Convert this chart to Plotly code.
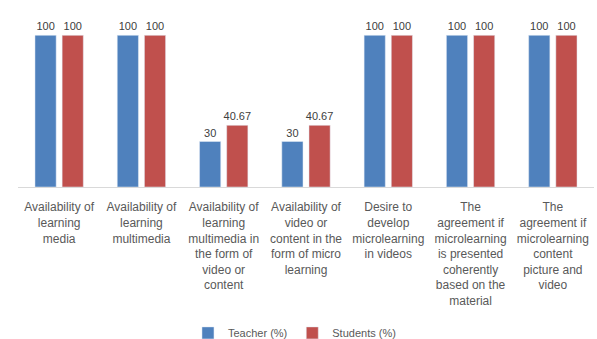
import plotly.graph_objects as go

categories = [
    "Availability of<br>learning<br>media",
    "Availability of<br>learning<br>multimedia",
    "Availability of<br>learning<br>multimedia in<br>the form of<br>video or<br>content",
    "Availability of<br>video or<br>content in the<br>form of micro<br>learning",
    "Desire to<br>develop<br>microlearning<br>in videos",
    "The<br>agreement if<br>microlearning<br>is presented<br>coherently<br>based on the<br>material",
    "The<br>agreement if<br>microlearning<br>content<br>picture and<br>video",
]
teacher = [100, 100, 30, 30, 100, 100, 100]
students = [100, 100, 40.67, 40.67, 100, 100, 100]
teacher_labels = ["100", "100", "30", "30", "100", "100", "100"]
student_labels = ["100", "100", "40.67", "40.67", "100", "100", "100"]

FONT = "Liberation Sans, Arial"
xs = list(range(len(categories)))

fig = go.Figure()
fig.add_trace(go.Bar(
    x=xs, y=teacher, name="Teacher (%)", marker_color="#4F81BD",
    text=teacher_labels, textposition="outside", cliponaxis=False,
    constraintext="none",
    textfont=dict(family=FONT, size=11, color="#404040"),
))
fig.add_trace(go.Bar(
    x=xs, y=students, name="Students (%)", marker_color="#C0504D",
    text=student_labels, textposition="outside", cliponaxis=False,
    constraintext="none",
    textfont=dict(family=FONT, size=11, color="#404040"),
))

fig.update_layout(
    width=597, height=339,
    margin=dict(l=18, r=3, t=5, b=152, autoexpand=False),
    paper_bgcolor="white", plot_bgcolor="white",
    barmode="group", bargap=0.34, bargroupgap=0.22,
    font=dict(family=FONT, color="#595959"),
    showlegend=True,
    legend=dict(orientation="h", x=0.48, xanchor="center",
                yref="container", y=0.018, yanchor="middle",
                font=dict(family=FONT, size=11, color="#595959"),
                itemwidth=30, traceorder="normal"),
)
fig.update_xaxes(
    tickmode="array", tickvals=xs, ticktext=categories,
    range=[-0.5, len(categories) - 0.5],
    showline=True, linecolor="#D9D9D9", linewidth=1,
    ticks="", tickfont=dict(family=FONT, size=12, color="#595959"),
    ticklabelstandoff=9, automargin=False,
    showgrid=False, zeroline=False, tickangle=0,
)
fig.update_yaxes(range=[0, 120], visible=False, showgrid=False)

fig.write_html("out.html")
